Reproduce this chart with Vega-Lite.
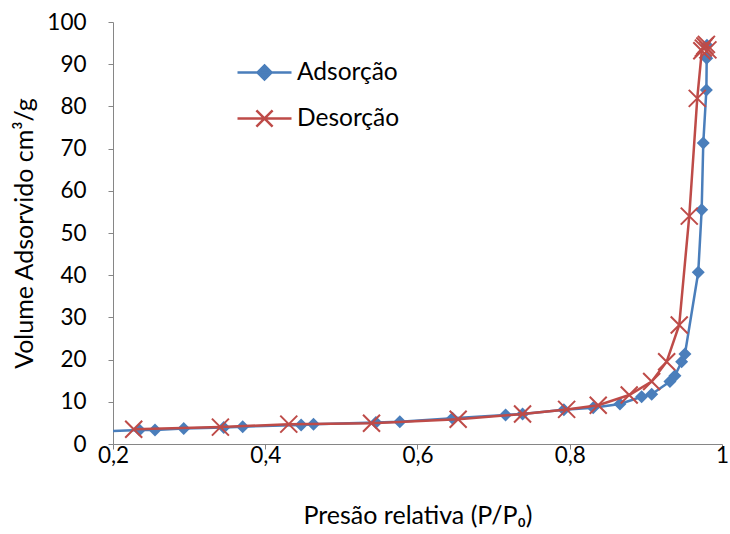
{
  "$schema": "https://vega.github.io/schema/vega-lite/v6.json",
  "width": 609,
  "height": 422,
  "autosize": "none",
  "padding": {"left": 113, "top": 22, "right": 8, "bottom": 90},
  "background": "white",
  "config": {
    "view": {"stroke": null},
    "font": "Lato",
    "axis": {
      "grid": false,
      "domainColor": "#868686",
      "tickColor": "#868686",
      "domainWidth": 1,
      "tickWidth": 1,
      "tickSize": 5,
      "labelFont": "Lato",
      "labelFontSize": 22.5,
      "labelColor": "#000000",
      "labelFlush": false,
      "labelOverlap": false,
      "titleFont": "Lato",
      "titleFontSize": 25,
      "titleFontWeight": "normal",
      "titleColor": "#000000"
    }
  },
  "data": {
    "values": [
      {"serie": "Adsorção", "P": 0.15, "V": 2.8},
      {"serie": "Adsorção", "P": 0.2347, "V": 3.3},
      {"serie": "Adsorção", "P": 0.2552, "V": 3.3},
      {"serie": "Adsorção", "P": 0.2929, "V": 3.7},
      {"serie": "Adsorção", "P": 0.3455, "V": 3.9},
      {"serie": "Adsorção", "P": 0.3704, "V": 4.1},
      {"serie": "Adsorção", "P": 0.4471, "V": 4.5},
      {"serie": "Adsorção", "P": 0.4634, "V": 4.7},
      {"serie": "Adsorção", "P": 0.5453, "V": 5.1},
      {"serie": "Adsorção", "P": 0.5768, "V": 5.3},
      {"serie": "Adsorção", "P": 0.646, "V": 6.1},
      {"serie": "Adsorção", "P": 0.7157, "V": 6.9},
      {"serie": "Adsorção", "P": 0.738, "V": 7.1},
      {"serie": "Adsorção", "P": 0.7923, "V": 8.1},
      {"serie": "Adsorção", "P": 0.8308, "V": 8.6},
      {"serie": "Adsorção", "P": 0.8659, "V": 9.5},
      {"serie": "Adsorção", "P": 0.8944, "V": 11.2},
      {"serie": "Adsorção", "P": 0.9076, "V": 11.8},
      {"serie": "Adsorção", "P": 0.9316, "V": 14.8},
      {"serie": "Adsorção", "P": 0.9382, "V": 16.2},
      {"serie": "Adsorção", "P": 0.947, "V": 19.5},
      {"serie": "Adsorção", "P": 0.9513, "V": 21.3},
      {"serie": "Adsorção", "P": 0.9688, "V": 40.7},
      {"serie": "Adsorção", "P": 0.9733, "V": 55.5},
      {"serie": "Adsorção", "P": 0.9754, "V": 71.3},
      {"serie": "Adsorção", "P": 0.9795, "V": 83.9},
      {"serie": "Adsorção", "P": 0.9799, "V": 91.4},
      {"serie": "Adsorção", "P": 0.9802, "V": 94.5},
      {"serie": "Desorção", "P": 0.2272, "V": 3.5},
      {"serie": "Desorção", "P": 0.3411, "V": 4.0},
      {"serie": "Desorção", "P": 0.4309, "V": 4.7},
      {"serie": "Desorção", "P": 0.5396, "V": 4.9},
      {"serie": "Desorção", "P": 0.6534, "V": 5.85},
      {"serie": "Desorção", "P": 0.738, "V": 7.1},
      {"serie": "Desorção", "P": 0.7959, "V": 8.2},
      {"serie": "Desorção", "P": 0.8374, "V": 9.2},
      {"serie": "Desorção", "P": 0.8781, "V": 11.6},
      {"serie": "Desorção", "P": 0.9076, "V": 14.8},
      {"serie": "Desorção", "P": 0.9273, "V": 19.5},
      {"serie": "Desorção", "P": 0.9438, "V": 28.2},
      {"serie": "Desorção", "P": 0.957, "V": 54.0},
      {"serie": "Desorção", "P": 0.9675, "V": 81.9},
      {"serie": "Desorção", "P": 0.9735, "V": 93.2},
      {"serie": "Desorção", "P": 0.9755, "V": 93.8},
      {"serie": "Desorção", "P": 0.9775, "V": 94.3},
      {"serie": "Desorção", "P": 0.9795, "V": 94.7},
      {"serie": "Desorção", "P": 0.9815, "V": 93.4}
    ]
  },
  "encoding": {
    "x": {
      "field": "P",
      "type": "quantitative",
      "scale": {"domain": [0.2, 1], "nice": false, "zero": false},
      "axis": {
        "values": [0.2, 0.4, 0.6, 0.8, 1],
        "labelExpr": "datum.value == 1 ? '1' : replace(format(datum.value, '.1f'), '.', ',')",
        "labelPadding": -5,
        "title": "Presão relativa (P/P₀)",
        "titlePadding": 37
      }
    },
    "y": {
      "field": "V",
      "type": "quantitative",
      "scale": {"domain": [0, 100], "nice": false},
      "axis": {
        "values": [0, 10, 20, 30, 40, 50, 60, 70, 80, 90, 100],
        "labelPadding": 22,
        "title": "Volume Adsorvido cm³/g",
        "titlePadding": 9
      }
    }
  },
  "layer": [
    {
      "transform": [{"filter": "datum.serie === 'Adsorção'"}],
      "mark": {"type": "line", "strokeWidth": 2.5, "clip": true},
      "encoding": {
        "color": {
          "field": "serie",
          "type": "nominal",
          "scale": {"domain": ["Adsorção", "Desorção"], "range": ["#4a7ebb", "#be4b48"]},
          "legend": {
            "title": null,
            "orient": "none",
            "legendX": 123,
            "legendY": 22,
            "padding": 0,
            "labelFont": "Lato",
            "labelFontSize": 24.5,
            "labelColor": "#000000",
            "symbolSize": 2916,
            "symbolStrokeWidth": 2.5,
            "labelOffset": 4,
            "rowPadding": 5,
            "encode": {
              "symbols": {
                "update": {
                  "shape": {"signal": "datum.value === 'Adsorção' ? 'M-1,0H1M0,-0.26L0.26,0L0,0.26L-0.26,0Z' : 'M-1,0H1M-0.3,-0.3L0.3,0.3M-0.3,0.3L0.3,-0.3'"},
                  "fill": {"signal": "datum.value === 'Adsorção' ? '#4a7ebb' : 'transparent'"},
                  "stroke": {"signal": "datum.value === 'Adsorção' ? '#4a7ebb' : '#be4b48'"},
                  "strokeWidth": {"value": 2.5},
                  "opacity": {"value": 1}
                }
              }
            }
          }
        }
      }
    },
    {
      "transform": [{"filter": "datum.serie === 'Adsorção'"}],
      "mark": {"type": "point", "shape": "diamond", "filled": true, "size": 169, "opacity": 1, "clip": true},
      "encoding": {
        "color": {
          "field": "serie",
          "type": "nominal",
          "scale": {"domain": ["Adsorção", "Desorção"], "range": ["#4a7ebb", "#be4b48"]},
          "legend": null
        }
      }
    },
    {
      "transform": [{"filter": "datum.serie === 'Desorção'"}],
      "mark": {"type": "line", "strokeWidth": 2.5, "clip": true},
      "encoding": {
        "color": {
          "field": "serie",
          "type": "nominal",
          "scale": {"domain": ["Adsorção", "Desorção"], "range": ["#4a7ebb", "#be4b48"]},
          "legend": null
        }
      }
    },
    {
      "transform": [{"filter": "datum.serie === 'Desorção'"}],
      "mark": {"type": "point", "shape": "M-1,-1L1,1M-1,1L1,-1", "filled": false, "size": 289, "strokeWidth": 2, "opacity": 1, "clip": true},
      "encoding": {
        "color": {
          "field": "serie",
          "type": "nominal",
          "scale": {"domain": ["Adsorção", "Desorção"], "range": ["#4a7ebb", "#be4b48"]},
          "legend": null
        }
      }
    }
  ]
}
